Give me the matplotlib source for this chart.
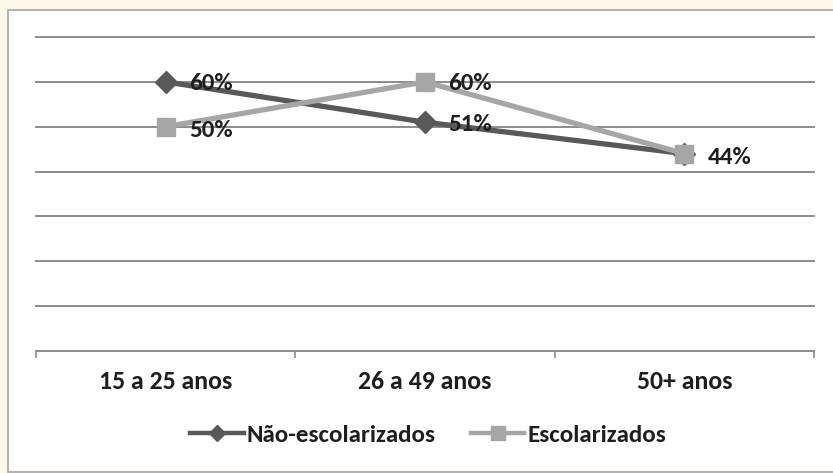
import matplotlib
matplotlib.use("Agg")
import matplotlib.pyplot as plt
from matplotlib.patches import Rectangle
from matplotlib.lines import Line2D

categories = ["15 a 25 anos", "26 a 49 anos", "50+ anos"]
nao_escolarizados = [60, 51, 44]
escolarizados = [50, 60, 44]
series_names = ["Não-escolarizados", "Escolarizados"]

plt.rcParams['font.family'] = ['Carlito', 'DejaVu Sans']
plt.rcParams['font.weight'] = 'bold'

W, H = 833, 473
fig = plt.figure(figsize=(W / 100, H / 100), dpi=100)
fig.patch.set_facecolor("#fdf8e9")

# white panel with a thin gray border
panel = Rectangle((8 / W, 1.5 / H), 1.2, (H - 12) / H, transform=fig.transFigure,
                  facecolor="white", edgecolor="#a6a6a6", linewidth=1.2, zorder=-10)
fig.patches.append(panel)

ax = fig.add_axes([36 / W, 1 - 351 / H, 778 / W, 314 / H])
ax.set_zorder(1)
ax.set_facecolor("none")
x = list(range(len(categories)))

dark = "#595959"
light = "#a6a6a6"
text_color = "#1e1e1e"
ax.plot(x, nao_escolarizados, color=dark, lw=3.8, marker="D", markersize=11,
        zorder=3, label=series_names[0])
ax.plot(x, escolarizados, color=light, lw=3.8, marker="s", markersize=13.5,
        zorder=4, label=series_names[1])

for xi, v in zip(x, nao_escolarizados):
    if xi == 2:
        continue
    ax.annotate(f"{v}%", (xi, v), xytext=(17, -1.5),
                textcoords="offset points", va="center", ha="left",
                fontsize=18, fontweight="bold", color=text_color, zorder=5)
for xi, v in zip(x, escolarizados):
    ax.annotate(f"{v}%", (xi, v), xytext=(17, -2.5 if xi != 1 else -1),
                textcoords="offset points", va="center", ha="left",
                fontsize=18, fontweight="bold", color=text_color, zorder=5)

ax.set_xlim(-0.5, 2.5)
ax.set_ylim(0, 70)
ax.set_yticks(range(10, 71, 10))
ax.yaxis.grid(True, color="#8c8c8c", lw=1.4)
for gl in ax.get_ygridlines():
    gl.set_clip_on(False)
ax.tick_params(axis="y", left=False, labelleft=False)
for s in ["top", "right", "left"]:
    ax.spines[s].set_visible(False)
ax.spines["bottom"].set_color("#8c8c8c")
ax.spines["bottom"].set_linewidth(1.4)

ax.set_xticks(x)
ax.set_xticklabels(categories, fontsize=18.5, fontweight="bold", color=text_color)
ax.set_xticks([-0.5, 0.5, 1.5, 2.5], minor=True)
ax.tick_params(axis="x", which="major", length=0, pad=14)
ax.tick_params(axis="x", which="minor", length=5, width=1.2, color="#8c8c8c", direction="out")

handles = [
    Line2D([], [], color=dark, lw=3.2, marker="D", markersize=8.5),
    Line2D([], [], color=light, lw=3.2, marker="s", markersize=10),
]
fig.legend(handles, series_names, loc="center", bbox_to_anchor=(428 / W, 1 - 435 / H),
           ncol=2, frameon=False, handlelength=2.15, handletextpad=0.12, columnspacing=1.4,
           prop={"size": 18, "weight": "bold"}, labelcolor=text_color)

fig.savefig("out.png", dpi=100, facecolor=fig.get_facecolor())
